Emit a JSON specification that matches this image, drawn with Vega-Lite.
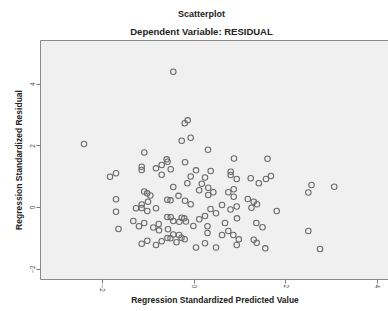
{
  "$schema": "https://vega.github.io/schema/vega-lite/v6.json",
  "autosize": {"type": "none"},
  "width": 349,
  "height": 239,
  "padding": {"left": 40, "top": 40, "right": 0, "bottom": 32},
  "background": "white",
  "title": {
    "text": "Scatterplot",
    "subtitle": "Dependent Variable: RESIDUAL",
    "anchor": "middle",
    "dx": -13,
    "offset": 4,
    "font": "Liberation Sans",
    "fontSize": 9,
    "fontWeight": "bold",
    "color": "#222222",
    "subtitleFont": "Liberation Sans",
    "subtitleFontSize": 9.5,
    "subtitleFontWeight": "bold",
    "subtitleColor": "#222222",
    "subtitlePadding": 8
  },
  "config": {
    "view": {"fill": "#f0f0f0", "stroke": "#8a8a8a", "strokeWidth": 1}
  },
  "data": {
    "values": [
      {"pred": -2.388, "resid": 2.043}, {"pred": -1.073, "resid": 1.768}, {"pred": -0.585, "resid": 1.547},
      {"pred": -0.441, "resid": 4.389}, {"pred": -0.127, "resid": 2.812}, {"pred": -0.192, "resid": 2.715},
      {"pred": -0.257, "resid": 2.150}, {"pred": -0.061, "resid": 2.245}, {"pred": 0.316, "resid": 1.859},
      {"pred": 0.883, "resid": 1.573}, {"pred": -0.185, "resid": 1.450}, {"pred": 1.614, "resid": 1.567},
      {"pred": -1.821, "resid": 0.983}, {"pred": -1.690, "resid": 1.093}, {"pred": -1.130, "resid": 1.307},
      {"pred": -1.130, "resid": 1.200}, {"pred": -0.818, "resid": 1.255}, {"pred": -0.694, "resid": 1.362},
      {"pred": -0.567, "resid": 1.469}, {"pred": -0.497, "resid": 1.223}, {"pred": -0.694, "resid": 1.048},
      {"pred": -0.061, "resid": 0.989}, {"pred": 0.055, "resid": 1.190}, {"pred": 0.375, "resid": 1.168},
      {"pred": 0.251, "resid": 0.957}, {"pred": 0.811, "resid": 1.145}, {"pred": 0.811, "resid": 1.038},
      {"pred": 0.942, "resid": 0.908}, {"pred": 1.248, "resid": 0.934}, {"pred": 1.581, "resid": 0.908},
      {"pred": 1.690, "resid": 1.006}, {"pred": -0.441, "resid": 0.649}, {"pred": -1.690, "resid": 0.250},
      {"pred": -1.075, "resid": 0.503}, {"pred": -1.010, "resid": 0.444}, {"pred": -0.942, "resid": 0.373},
      {"pred": -0.327, "resid": 0.363}, {"pred": -0.992, "resid": 0.169}, {"pred": -0.571, "resid": 0.237},
      {"pred": -0.502, "resid": 0.217}, {"pred": -1.130, "resid": 0.081}, {"pred": -1.130, "resid": -0.032},
      {"pred": -1.254, "resid": -0.042}, {"pred": -0.818, "resid": -0.042}, {"pred": -0.135, "resid": 0.769},
      {"pred": 0.181, "resid": 0.756}, {"pred": 0.321, "resid": 0.623}, {"pred": 0.432, "resid": 0.477},
      {"pred": 0.124, "resid": 0.542}, {"pred": 0.759, "resid": 0.477}, {"pred": 0.877, "resid": 0.574},
      {"pred": 0.877, "resid": 0.334}, {"pred": 0.321, "resid": 0.389}, {"pred": -0.185, "resid": 0.204},
      {"pred": -0.061, "resid": 0.088}, {"pred": 0.622, "resid": 0.065}, {"pred": 0.807, "resid": -0.081},
      {"pred": 0.942, "resid": 0.016}, {"pred": 1.184, "resid": 0.259}, {"pred": 1.313, "resid": 0.169},
      {"pred": 1.385, "resid": 0.091}, {"pred": 1.424, "resid": 0.769}, {"pred": 0.371, "resid": -0.065},
      {"pred": 2.574, "resid": 0.714}, {"pred": 2.504, "resid": 0.470}, {"pred": 3.069, "resid": 0.658},
      {"pred": 0.491, "resid": -0.204}, {"pred": 1.265, "resid": -0.026}, {"pred": 1.815, "resid": -0.130},
      {"pred": -0.571, "resid": -0.324}, {"pred": -0.497, "resid": -0.334}, {"pred": -0.257, "resid": -0.347},
      {"pred": -0.201, "resid": -0.367}, {"pred": -0.164, "resid": -0.470}, {"pred": -0.441, "resid": -0.454},
      {"pred": -0.310, "resid": -0.477}, {"pred": -0.004, "resid": -0.616}, {"pred": 0.126, "resid": -0.399},
      {"pred": 0.251, "resid": -0.292}, {"pred": 0.305, "resid": -0.626}, {"pred": 0.305, "resid": -0.843},
      {"pred": 0.687, "resid": -0.519}, {"pred": 0.949, "resid": -0.367}, {"pred": 1.370, "resid": -0.519},
      {"pred": 1.505, "resid": -0.658}, {"pred": 0.759, "resid": -0.778}, {"pred": 0.622, "resid": -0.908},
      {"pred": 0.868, "resid": -0.908}, {"pred": 0.988, "resid": -1.048}, {"pred": 0.942, "resid": -1.233},
      {"pred": 1.313, "resid": -1.061}, {"pred": 1.378, "resid": -1.158}, {"pred": 1.566, "resid": -1.340},
      {"pred": -0.441, "resid": -0.892}, {"pred": -0.316, "resid": -0.908}, {"pred": -0.567, "resid": -1.006},
      {"pred": -0.502, "resid": -1.015}, {"pred": -0.262, "resid": -0.996}, {"pred": -0.192, "resid": -1.044},
      {"pred": -0.371, "resid": -1.142}, {"pred": -1.130, "resid": -1.190}, {"pred": -1.008, "resid": -1.093},
      {"pred": -0.818, "resid": -1.233}, {"pred": -0.694, "resid": -1.109}, {"pred": 0.055, "resid": -1.314},
      {"pred": 0.251, "resid": -1.177}, {"pred": 0.491, "resid": -1.314}, {"pred": 2.504, "resid": -0.778},
      {"pred": 2.759, "resid": -1.362}, {"pred": -1.690, "resid": -0.152}, {"pred": -1.313, "resid": -0.454},
      {"pred": -1.189, "resid": -0.626}, {"pred": -1.075, "resid": -0.519}, {"pred": -1.636, "resid": -0.714},
      {"pred": -0.877, "resid": -0.665}, {"pred": -0.759, "resid": -0.551}, {"pred": -0.752, "resid": -0.756},
      {"pred": -0.556, "resid": -0.720}, {"pred": -1.008, "resid": -0.130}
    ]
  },
  "mark": {"type": "point", "shape": "circle", "filled": false, "size": 30, "stroke": "#6a6a6a", "strokeWidth": 1.1, "opacity": 1},
  "encoding": {
    "x": {
      "field": "pred",
      "type": "quantitative",
      "scale": {"domain": [-3.348, 4.264], "nice": false, "zero": false},
      "axis": {
        "title": "Regression Standardized Predicted Value",
        "titleFont": "Liberation Sans",
        "titleFontSize": 8.5,
        "titleFontWeight": "bold",
        "titleColor": "#222222",
        "titlePadding": 4,
        "values": [-2, 0, 2, 4],
        "grid": false,
        "domain": false,
        "ticks": true,
        "tickSize": 4,
        "tickColor": "#777777",
        "labelFont": "Liberation Sans",
        "labelFontSize": 6.5,
        "labelColor": "#444444",
        "labelAngle": 90,
        "labelPadding": 1,
        "format": "d"
      }
    },
    "y": {
      "field": "resid",
      "type": "quantitative",
      "scale": {"domain": [-2.335, 5.417], "nice": false, "zero": false},
      "axis": {
        "title": "Regression Standardized Residual",
        "titleFont": "Liberation Sans",
        "titleFontSize": 8.5,
        "titleFontWeight": "bold",
        "titleColor": "#222222",
        "titlePadding": 6,
        "values": [-2, 0, 2, 4],
        "grid": false,
        "domain": false,
        "ticks": true,
        "tickSize": 4,
        "tickColor": "#777777",
        "labelFont": "Liberation Sans",
        "labelFontSize": 6.5,
        "labelColor": "#444444",
        "labelAngle": -90,
        "labelPadding": 1,
        "format": "d"
      }
    }
  }
}
